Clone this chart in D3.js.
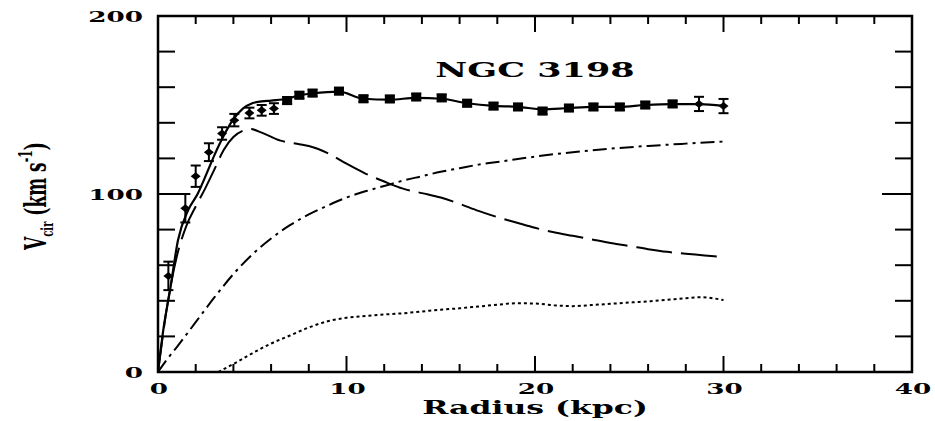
<!DOCTYPE html>
<html>
<head>
<meta charset="utf-8">
<script src="https://cdn.jsdelivr.net/npm/d3@7"></script>
<style>
  body { margin: 0; background: #fff; }
  text { font-family: "DejaVu Serif", serif; font-weight: bold; fill: #000; }
</style>
</head>
<body>
<svg id="chart" width="935" height="421"></svg>
<script>
// observed rotation curve (radius kpc, velocity km/s, error km/s)
const obsR   = [0.55, 1.45, 2.0, 2.7, 3.4, 4.05, 4.85, 5.5, 6.15, 6.85, 7.5, 8.2, 9.6, 10.9, 12.3, 13.7, 15.05, 16.4, 17.8, 19.1, 20.4, 21.8, 23.1, 24.5, 25.85, 27.3, 28.7, 30.0];
const obsV   = [54, 92, 110, 123.5, 134, 141.5, 145.5, 147, 148, 152.5, 155.5, 156.7, 157.8, 153.5, 153.4, 154.5, 154, 151, 149.4, 148.9, 146.6, 148.3, 148.9, 148.9, 150, 150.6, 150.6, 149.4];
const obsErr = [8, 8, 6, 5, 3.5, 3.5, 3, 3, 3, 2, 2, 2, 2, 2, 2, 2, 2, 2, 2, 2, 2, 2, 2, 2, 2, 2, 4, 4];

// model components
const totalR = [0, 0.3, 0.64, 1.06, 1.6, 2.1, 2.6, 3.0, 3.5, 4.0, 4.5, 5.0, 5.5, 6.0, 6.85, 7.5, 8.2, 9.6, 10.9, 12.3, 13.7, 15.05, 16.4, 17.8, 19.1, 20.4, 21.8, 23.1, 24.5, 25.85, 27.3, 28.7, 30.0];
const totalV = [0, 25, 46, 74, 91, 100, 112, 122, 133, 142, 148, 151, 152, 152.5, 153.5, 155.5, 156.5, 157.5, 153.5, 153, 154, 153.5, 151, 149.5, 149, 147.5, 148.3, 148.9, 149, 150, 150.5, 150.5, 149.5];

const diskR = [0, 0.5, 1, 1.5, 2, 2.5, 3, 3.5, 4, 4.5, 4.9, 5.5, 6.5, 7.5, 8, 9, 10, 11, 12, 13, 14, 15, 16, 17, 18, 19, 20, 21, 22, 23, 24, 25, 26, 27, 28, 29, 30];
const diskV = [0, 38, 65, 82, 93, 103, 114, 125, 132, 135.5, 136.5, 134.5, 130, 128, 127, 123, 117, 111.5, 107, 103, 100.5, 98, 94.5, 90.5, 87, 84, 81, 78.5, 76.5, 74.5, 72.5, 70.8, 69, 67.5, 66.5, 65.5, 64.5];

const haloR = [0, 0.4, 1, 2, 3, 4, 5, 6, 7, 8, 9, 10, 11, 12, 13, 14, 15, 16, 17, 18, 19, 20, 22, 24, 26, 28, 30];
const haloV = [0, 6, 14, 28, 42, 55, 66, 75, 82.5, 88.5, 93.5, 98, 101.5, 104.5, 107.5, 110, 112.5, 114.5, 116.5, 118, 119.5, 121, 123.5, 125.5, 127, 128.3, 129.5];

const gasR = [3.2, 4, 5, 6, 7, 8, 9, 10, 11, 12, 13, 14, 15, 16, 17, 18, 19, 20, 21, 22, 23, 24, 25, 26, 27, 28, 28.8, 30];
const gasV = [0, 4.5, 10.5, 16, 20.5, 25, 28.5, 30.5, 31.5, 32.3, 33, 34, 35, 35.8, 36.8, 37.8, 38.6, 38.5, 37.5, 37, 37.6, 38.3, 39, 39.7, 40.5, 41.5, 42, 40.4];

const xTicks = [0, 10, 20, 30, 40];
const yTicks = [0, 100, 200];
const title = "NGC 3198";

const svg = d3.select("#chart");
const m = { left: 158, right: 912, top: 16, bottom: 372 };
const SX = 1.75; // original figure is stretched horizontally

const x = d3.scaleLinear().domain([0, 40]).range([m.left, m.right]);
const y = d3.scaleLinear().domain([0, 200]).range([m.bottom, m.top]);

const zip = (a, b) => a.map((d, i) => [d, b[i]]);
const line = d3.line().x(d => x(d[0])).y(d => y(d[1])).curve(d3.curveMonotoneX);

// frame
svg.append("rect")
  .attr("x", m.left).attr("y", m.top)
  .attr("width", m.right - m.left).attr("height", m.bottom - m.top)
  .attr("fill", "none").attr("stroke", "#000").attr("stroke-width", 2.5);

// inward ticks on all four sides
const ticks = svg.append("g").attr("stroke", "#000").attr("stroke-width", 2);
d3.range(2, 40, 2).forEach(v => {
  const len = v % 10 === 0 ? 16 : 8;
  ticks.append("line").attr("x1", x(v)).attr("x2", x(v)).attr("y1", m.bottom).attr("y2", m.bottom - len);
  ticks.append("line").attr("x1", x(v)).attr("x2", x(v)).attr("y1", m.top).attr("y2", m.top + len);
});
d3.range(20, 200, 20).forEach(v => {
  const len = v % 100 === 0 ? 30 : 17;
  ticks.append("line").attr("x1", m.left).attr("x2", m.left + len).attr("y1", y(v)).attr("y2", y(v));
  ticks.append("line").attr("x1", m.right).attr("x2", m.right - len).attr("y1", y(v)).attr("y2", y(v));
});

function label(str, px, py, size, anchor) {
  return svg.append("text")
    .attr("transform", `translate(${px},${py}) scale(${SX},1)`)
    .attr("text-anchor", anchor)
    .attr("font-size", size)
    .text(str);
}

xTicks.forEach(v => label(v, x(v) + 1, 394, 15, "middle"));
yTicks.forEach(v => label(v, m.left - 15, y(v) + 5.5, 15, "end"));
label("Radius (kpc)", (m.left + m.right) / 2, 414, 18, "middle");
label(title, x(20), y(166), 20, "middle");

// y axis title, rotated
const yl = svg.append("text")
  .attr("transform", `translate(46,196) scale(${SX},1) rotate(-90)`)
  .attr("text-anchor", "middle")
  .attr("font-size", 17);
yl.append("tspan").text("V");
yl.append("tspan").attr("font-size", 10).attr("dy", 4).text("cir");
yl.append("tspan").attr("dy", -4).text(" (km s");
yl.append("tspan").attr("font-size", 11).attr("dy", -8).text("-1");
yl.append("tspan").attr("dy", 8).text(")");

// model curves
const curves = svg.append("g").attr("fill", "none").attr("stroke", "#000").attr("stroke-width", 2);
curves.append("path").attr("d", line(zip(gasR, gasV))).attr("stroke-dasharray", "3,3");
curves.append("path").attr("d", line(zip(haloR, haloV))).attr("stroke-dasharray", "14,5,3,5");
curves.append("path").attr("d", line(zip(diskR, diskV))).attr("stroke-dasharray", "36,9");
curves.append("path").attr("d", line(zip(totalR, totalV))).attr("stroke-width", 2.2);

// observed points with error bars
const obs = obsR.map((r, i) => ({ r, v: obsV[i], e: obsErr[i] }));
const pts = svg.append("g").selectAll("g").data(obs).join("g");
pts.append("line")
  .attr("x1", d => x(d.r)).attr("x2", d => x(d.r))
  .attr("y1", d => y(d.v - d.e)).attr("y2", d => y(d.v + d.e))
  .attr("stroke", "#000").attr("stroke-width", 2);
[-1, 1].forEach(s => {
  pts.append("line")
    .attr("x1", d => x(d.r) - 5).attr("x2", d => x(d.r) + 5)
    .attr("y1", d => y(d.v + s * d.e)).attr("y2", d => y(d.v + s * d.e))
    .attr("stroke", "#000").attr("stroke-width", 2);
});
pts.append("path")
  .attr("transform", d => `translate(${x(d.r)},${y(d.v)})`)
  .attr("d", d => d.e > 2.5 ? "M-5,0L0,-4L5,0L0,4Z" : "M-5,-4H5V4H-5Z")
  .attr("fill", "#000");
</script>
</body>
</html>
